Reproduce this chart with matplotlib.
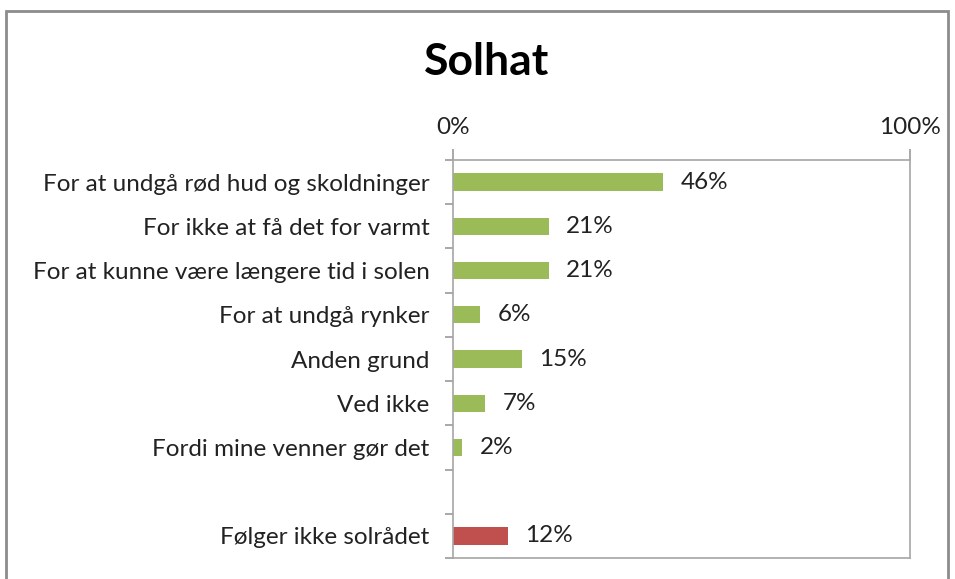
import matplotlib.pyplot as plt
from matplotlib.patches import Rectangle

# Data
categories = ["For at undgå rød hud og skoldninger", "For ikke at få det for varmt",
              "For at kunne være længere tid i solen", "For at undgå rynker",
              "Anden grund", "Ved ikke", "Fordi mine venner gør det",
              "", "Følger ikke solrådet"]
values = [46, 21, 21, 6, 15, 7, 2, None, 12]
colors = ["#9BBB59"] * 8 + ["#C0504D"]

plt.rcParams['font.family'] = ['Lato', 'DejaVu Sans']

fig = plt.figure(figsize=(9.55, 5.79), dpi=100)
ax = fig.add_axes([453 / 955, 1 - 558 / 579, 457 / 955, 398 / 579])

pos = list(range(len(categories)))
for i, v in enumerate(values):
    if v is None:
        continue
    ax.barh(i, v / 100, height=0.39, color=colors[i])
    ax.text(v / 100 + 0.038, i, f"{v}%", va='center', ha='left',
            fontsize=17.5, color='#222222')

ax.set_xlim(0, 1)
ax.set_ylim(len(categories) - 0.5, -0.5)
ax.set_yticks(pos)
ax.set_yticklabels(categories, fontsize=17.5, color='#222222')
ax.tick_params(axis='y', length=0, pad=17)
# category separator ticks
ax.set_yticks([p - 0.5 for p in pos] + [len(categories) - 0.5], minor=True)
ax.tick_params(axis='y', which='minor', length=6, color='#999999', width=1.2)

ax.xaxis.tick_top()
ax.set_xticks([0, 1])
ax.set_xticklabels(["0%", "100%"], fontsize=17.5, color='#222222')
ax.tick_params(axis='x', length=8, color='#999999', width=1.2, pad=8)

for s in ax.spines.values():
    s.set_color('#A6A6A6')
    s.set_linewidth(1.2)

fig.text(487 / 955, 1 - 62 / 579, "Solhat", fontsize=32, fontweight='bold',
         ha='center', va='center', color='black')

fig.patches.append(Rectangle((6 / 955, -0.05), 942 / 955, 1.05 - 11 / 579,
                             transform=fig.transFigure, fill=False,
                             edgecolor='#8C8C8C', linewidth=2, clip_on=False))

fig.savefig("out.png", dpi=100)
